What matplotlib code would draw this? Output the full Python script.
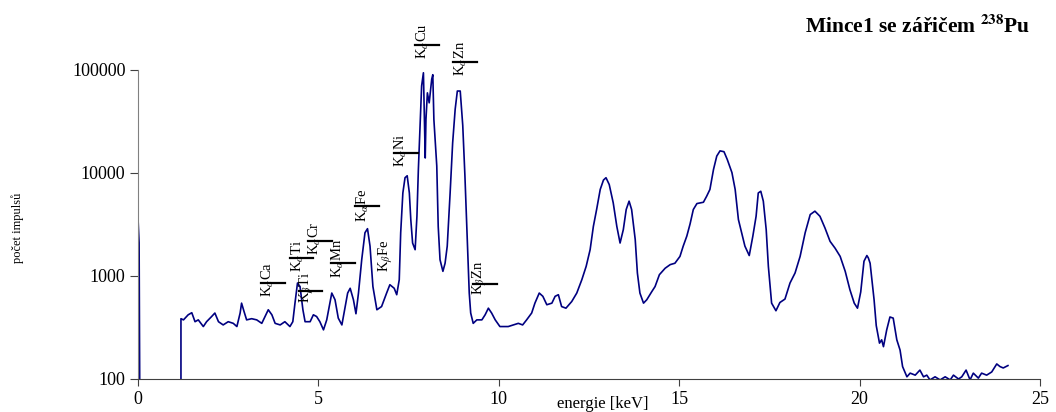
import numpy as np
import matplotlib
matplotlib.use('Agg')
import matplotlib.pyplot as plt

# spectrum: energy [keV], counts
energy = [0.00, 0.03, 0.05, 1.19, 1.19, 1.26, 1.39, 1.49, 1.58, 1.67, 1.81, 1.90, 2.04, 2.13, 2.23, 2.36,
          2.50, 2.64, 2.74, 2.83, 2.87, 2.94, 3.01, 3.15, 3.29, 3.43, 3.52, 3.61, 3.71, 3.80, 3.94, 4.07,
          4.21, 4.29, 4.35, 4.42, 4.49, 4.57, 4.63, 4.77, 4.86, 4.95, 5.04, 5.14, 5.23, 5.37, 5.46, 5.55,
          5.65, 5.71, 5.81, 5.88, 5.97, 6.04, 6.11, 6.20, 6.29, 6.36, 6.43, 6.51, 6.62, 6.75, 6.89, 6.98,
          7.10, 7.17, 7.24, 7.28, 7.34, 7.40, 7.46, 7.52, 7.56, 7.61, 7.68, 7.73, 7.77, 7.82, 7.86, 7.91,
          7.94, 7.96, 7.98, 8.02, 8.07, 8.11, 8.14, 8.17, 8.20, 8.28, 8.32, 8.37, 8.45, 8.51, 8.57, 8.65,
          8.72, 8.79, 8.85, 8.93, 9.00, 9.06, 9.13, 9.18, 9.22, 9.29, 9.39, 9.53, 9.62, 9.71, 9.80, 9.90,
          10.03, 10.17, 10.26, 10.40, 10.54, 10.66, 10.77, 10.91, 11.00, 11.12, 11.22, 11.33, 11.47, 11.56,
          11.65, 11.74, 11.86, 12.02, 12.16, 12.30, 12.42, 12.53, 12.62, 12.71, 12.81, 12.90, 12.97, 13.06,
          13.17, 13.27, 13.36, 13.45, 13.53, 13.61, 13.68, 13.78, 13.84, 13.91, 14.01, 14.10, 14.24, 14.33,
          14.45, 14.61, 14.75, 14.88, 15.02, 15.11, 15.21, 15.30, 15.39, 15.49, 15.67, 15.76, 15.85, 15.95,
          16.04, 16.13, 16.24, 16.33, 16.46, 16.55, 16.64, 16.73, 16.82, 16.94, 17.04, 17.13, 17.19, 17.26,
          17.33, 17.41, 17.47, 17.56, 17.68, 17.79, 17.93, 18.07, 18.21, 18.35, 18.49, 18.63, 18.76, 18.90,
          19.04, 19.18, 19.32, 19.46, 19.60, 19.73, 19.85, 19.94, 20.03, 20.12, 20.20, 20.24, 20.29, 20.34,
          20.40, 20.46, 20.55, 20.61, 20.66, 20.75, 20.84, 20.93, 21.03, 21.12, 21.19, 21.31, 21.40, 21.54,
          21.67, 21.77, 21.86, 21.95, 22.09, 22.23, 22.37, 22.51, 22.60, 22.74, 22.83, 22.95, 23.06, 23.15,
          23.29, 23.38, 23.52, 23.66, 23.80, 23.89, 23.98, 24.11]
counts = [3600, 2100, 50, 50, 385, 375, 420, 440, 360, 375, 323, 360, 404, 437, 360, 335,
          360, 347, 323, 437, 545, 450, 375, 385, 375, 347, 404, 470, 420, 347, 335, 360,
          323, 360, 545, 855, 790, 470, 360, 360, 420, 404, 360, 300, 375, 683, 588, 390,
          335, 437, 683, 760, 588, 430, 683, 1441, 2630, 2880, 1950, 790, 470, 505, 683, 823,
          760, 658, 920, 2630, 6400, 9000, 9400, 6400, 3530, 2090, 1800, 3800, 10840, 31000, 70000, 94000,
          29000, 14000, 33000, 60000, 48000, 65000, 81500, 90000, 33000, 11700, 3030, 1440, 1110, 1330, 1950, 6400,
          19600, 41600, 62500, 62500, 29000, 9400, 2090, 683, 437, 347, 375, 375, 420, 487, 437, 375,
          323, 323, 323, 335, 347, 335, 375, 437, 545, 683, 635, 526, 545, 635,
          658, 505, 487, 565, 683, 920, 1240, 1800, 3030, 4420, 6920, 8540, 9000, 7720,
          5140, 3030, 2090, 2820, 4420, 5330, 4420, 2260, 1070, 683, 545, 588, 706, 790,
          1030, 1190, 1290, 1330, 1550, 1950, 2440, 3200, 4420, 5050, 5200, 5950, 6920, 10840,
          14600, 16400, 16100, 13560, 10100, 6920, 3530, 2630, 1950, 1580, 2440, 3800, 6400, 6650,
          5330, 2820, 1240, 545, 460, 553, 597, 855, 1070, 1550, 2630, 3950, 4260, 3800,
          2920, 2170, 1860, 1550, 1110, 736, 545, 487, 700, 1390, 1580, 1500, 1330, 920,
          588, 330, 223, 240, 206, 300, 400, 390, 240, 191, 132, 105, 114, 109,
          122, 105, 109, 98, 105, 98, 105, 98, 109, 100, 105, 122, 98, 114,
          102, 114, 109, 117, 140, 132, 128, 135]

# peak labels: text, x centre [keV], y of text bottom, marker line y, line x range
peak_text = [r'K$_\alpha$Ca', r'K$_\alpha$Ti', r'K$_\beta$Ti', r'K$_\alpha$Cr', r'K$_\alpha$Mn',
             r'K$_\alpha$Fe', r'K$_\beta$Fe', r'K$_\alpha$Ni', r'K$_\alpha$Cu', r'K$_\alpha$Zn', r'K$_\beta$Zn']
peak_x = [3.59, 4.42, 4.68, 4.91, 5.54, 6.24, 6.87, 7.29, 7.89, 8.95, 9.48]
peak_y = [628, 1101, 550, 1610, 962, 3380, 1101, 11350, 127700, 87100, 658]
line_y = [861, 1507, 720, 2210, 1349, 4730, None, 15530, 175800, 120200, 841]
line_x0 = [3.41, 4.21, 4.46, 4.71, 5.35, 6.01, None, 7.10, 7.68, 8.73, 9.28]
line_x1 = [4.07, 4.85, 5.10, 5.38, 6.01, 6.68, None, 7.76, 8.34, 9.40, 9.95]

plt.rcParams['font.family'] = 'Liberation Serif'
plt.rcParams['mathtext.fontset'] = 'stix'

fig = plt.figure(figsize=(10.56, 4.12), dpi=100)
ax = fig.add_axes([0.1307, 0.0801, 0.8542, 0.75])

ax.plot(energy, counts, color='#000080', lw=1.2)
ax.set_yscale('log')
ax.set_xlim(0, 25)
ax.set_ylim(100, 100000)

ax.set_yticks([100, 1000, 10000, 100000])
ax.set_yticklabels(['100', '1000', '10000', '100000'])
ax.yaxis.set_minor_locator(matplotlib.ticker.NullLocator())
ax.set_xticks([0, 5, 10, 15, 20, 25])
ax.set_xticklabels(['0', '5', '10', '15', '20', '25'])

for s in ['top', 'right']:
    ax.spines[s].set_visible(False)
ax.spines['left'].set_color('#808080')
ax.spines['bottom'].set_color('#404040')
ax.tick_params(axis='y', direction='out', length=6, color='#404040', labelsize=13, pad=3)
ax.tick_params(axis='x', direction='out', length=5, color='#404040', labelsize=13, pad=4)

for i in range(len(peak_text)):
    ax.text(peak_x[i], peak_y[i], peak_text[i], rotation=90, ha='center', va='bottom',
            fontsize=10.5, clip_on=False)
    if line_y[i] is not None:
        ax.plot([line_x0[i], line_x1[i]], [line_y[i], line_y[i]], color='black', lw=1.6, clip_on=False)

fig.text(1030 / 1056, 1 - 26 / 412, r'Mince1 se zářičem $^{\mathbf{238}}$Pu', ha='right', va='center',
         fontsize=15.5, fontweight='bold')
fig.text(18 / 1056, 1 - 228 / 412, 'počet impulsů', rotation=90, ha='center', va='center', fontsize=9)
fig.text(603 / 1056, 1 - 404 / 412, 'energie [keV]', ha='center', va='center', fontsize=12)

fig.savefig('out.png', dpi=100)
